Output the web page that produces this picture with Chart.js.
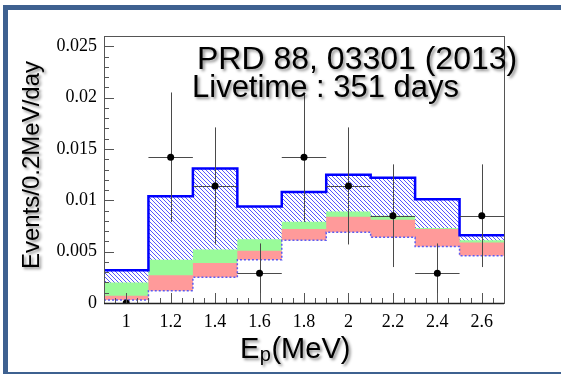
<!DOCTYPE html>
<html>
<head>
<meta charset="utf-8">
<script src="https://cdn.jsdelivr.net/npm/chart.js@4.4.1/dist/chart.umd.min.js"></script>
<style>
    html, body { margin: 0; padding: 0; background: #fff; }
    #wrap { position: relative; width: 561px; height: 374px; overflow: hidden; }
    #frame { position: absolute; left: 3px; top: 5px; right: 0; bottom: 0;
             border-top: 5px solid #3e6190; border-left: 5px solid #3e6190; border-bottom: 2px solid #3e6190; }
    #chart { position: absolute; left: 0; top: 0; }
</style>
</head>
<body>
<div id="wrap">
    <div id="frame"></div>
    <canvas id="chart" width="561" height="374"></canvas>
</div>
<script>
// bin edges (MeV) and bin centres of the histograms
const binEdges = [0.9, 1.1, 1.3, 1.5, 1.7, 1.9, 2.1, 2.3, 2.5, 2.7];
const binCenters = [1.0, 1.2, 1.4, 1.6, 1.8, 2.0, 2.2, 2.4, 2.6];

// stacked predictions, Events/0.2MeV/day (top of each coloured band)
const predTotal = [0.0032, 0.0104, 0.0131, 0.0094, 0.0108, 0.0125, 0.0122, 0.0101, 0.0066];
const predGreen = [0.0020, 0.0042, 0.0052, 0.0062, 0.0079, 0.0089, 0.0085, 0.0073, 0.0061];
const predRed   = [0.0007, 0.0027, 0.0039, 0.0051, 0.0072, 0.0084, 0.0081, 0.0072, 0.0059];
const predBase  = [0.0003, 0.0012, 0.0025, 0.0042, 0.0061, 0.0069, 0.0064, 0.0055, 0.0046];

// measured points with errors
const dataRate = [0.0, 0.0142, 0.0114, 0.0029, 0.0142, 0.0114, 0.0085, 0.0029, 0.0085];
const dataErr  = [0.0009, 0.0063, 0.0057, 0.0029, 0.0063, 0.0057, 0.0050, 0.0029, 0.0050];
const binHalfWidth = 0.1;

// tick labels
const xTickLabels = ['1', '1.2', '1.4', '1.6', '1.8', '2', '2.2', '2.4', '2.6'];
const yTickLabels = ['0', '0.005', '0.01', '0.015', '0.02', '0.025'];

const refText = 'PRD 88, 03301 (2013)';
const liveText = 'Livetime : 351 days';
const yTitle = 'Events/0.2MeV/day';

const sans = '"Liberation Sans", Arial, sans-serif';
const serif = '"Liberation Serif", "Times New Roman", serif';

// step histogram points: one per left edge plus the last right edge
const stepPoints = vals => binEdges.map((x, i) => ({ x: x, y: vals[Math.min(i, vals.length - 1)] }));

const pickLabel = (labels, value) => {
    const l = labels.find(s => Math.abs(parseFloat(s) - value) < 1e-6);
    return l === undefined ? '' : l;
};

// diagonal hatch like ROOT fill style 3004
function makeHatch() {
    const c = document.createElement('canvas');
    c.width = 4; c.height = 4;
    const g = c.getContext('2d');
    g.fillStyle = '#fff';
    g.fillRect(0, 0, 4, 4);
    g.strokeStyle = '#4444ff';
    g.lineWidth = 0.9;
    g.beginPath();
    g.moveTo(-1, -1); g.lineTo(5, 5);
    g.moveTo(-1, 3); g.lineTo(1, 5);
    g.moveTo(3, -1); g.lineTo(5, 1);
    g.stroke();
    return g.createPattern(c, 'repeat');
}

// error bars under the data dots
const errorBars = {
    id: 'errorBars',
    beforeDatasetDraw(chart, args) {
        if (args.index !== 4) return;
        const { ctx, chartArea: a, scales: { x, y } } = chart;
        ctx.save();
        ctx.beginPath();
        ctx.rect(a.left, a.top, a.width, a.height);
        ctx.clip();
        ctx.strokeStyle = '#4a4a4a';
        ctx.lineWidth = 1;
        ctx.beginPath();
        binCenters.forEach((c, i) => {
            const px = Math.round(x.getPixelForValue(c)) + 0.5;
            const py = Math.round(y.getPixelForValue(dataRate[i])) + 0.5;
            ctx.moveTo(x.getPixelForValue(c - binHalfWidth), py);
            ctx.lineTo(x.getPixelForValue(c + binHalfWidth), py);
            ctx.moveTo(px, y.getPixelForValue(dataRate[i] + dataErr[i]));
            ctx.lineTo(px, y.getPixelForValue(dataRate[i] - dataErr[i]));
        });
        ctx.stroke();
        ctx.restore();
    }
};

// ROOT style frame with inward ticks
const rootAxes = {
    id: 'rootAxes',
    afterDatasetsDraw(chart) {
        const { ctx, chartArea: a, scales: { x, y } } = chart;
        ctx.save();
        ctx.strokeStyle = '#555';
        ctx.lineWidth = 1;
        ctx.strokeRect(a.left + 0.5, a.top + 0.5, a.width, a.height);
        ctx.beginPath();
        y.ticks.forEach((t, i) => {
            const py = Math.round(y.getPixelForTick(i)) + 0.5;
            const len = t.label ? 10 : 5;
            ctx.moveTo(a.left, py);
            ctx.lineTo(a.left + len, py);
        });
        x.ticks.forEach((t, i) => {
            const px = Math.round(x.getPixelForTick(i)) + 0.5;
            const len = t.label ? 10 : 5;
            ctx.moveTo(px, a.bottom);
            ctx.lineTo(px, a.bottom - len);
        });
        ctx.stroke();
        ctx.beginPath();
        ctx.strokeStyle = '#222';
        ctx.lineWidth = 1.5;
        ctx.moveTo(a.left, a.bottom + 0.5);
        ctx.lineTo(a.right, a.bottom + 0.5);
        ctx.stroke();
        ctx.restore();
    }
};

// annotation and axis titles with a soft shadow
const shadowText = {
    id: 'shadowText',
    afterDraw(chart) {
        const ctx = chart.ctx;
        ctx.save();
        ctx.shadowColor = 'rgba(0,0,0,0.45)';
        ctx.shadowOffsetX = 2;
        ctx.shadowOffsetY = 2;
        ctx.shadowBlur = 3;
        ctx.fillStyle = '#000';
        ctx.textBaseline = 'alphabetic';

        ctx.font = '32px ' + sans;
        ctx.fillText(refText, 197, 69);
        ctx.font = '31px ' + sans;
        ctx.fillText(liveText, 192, 97);

        // E_p(MeV)
        let xx = 240;
        ctx.font = '29px ' + sans;
        ctx.fillText('E', xx, 358);
        xx += ctx.measureText('E').width + 0.5;
        ctx.font = '20px ' + sans;
        ctx.fillText('p', xx, 361);
        xx += ctx.measureText('p').width + 0.5;
        ctx.font = '29px ' + sans;
        ctx.fillText('(MeV)', xx, 358);

        ctx.translate(38.5, 165);
        ctx.rotate(-Math.PI / 2);
        ctx.textAlign = 'center';
        ctx.font = '24px ' + sans;
        ctx.fillText(yTitle, 0, 0);
        ctx.restore();
    }
};

const chart = new Chart(document.getElementById('chart'), {
    type: 'line',
    data: {
        datasets: [
            {
                label: 'total', data: stepPoints(predTotal), stepped: 'before',
                borderColor: '#0000ff', borderWidth: 2.5, backgroundColor: makeHatch(),
                fill: 'origin', pointRadius: 0, order: 5
            },
            {
                label: 'green', data: stepPoints(predGreen), stepped: 'before',
                borderColor: 'rgba(0,0,0,0)', borderWidth: 0, backgroundColor: '#99fb99',
                fill: 'origin', pointRadius: 0, order: 4
            },
            {
                label: 'red', data: stepPoints(predRed), stepped: 'before',
                borderColor: 'rgba(0,0,0,0)', borderWidth: 0, backgroundColor: '#ff9a9a',
                fill: 'origin', pointRadius: 0, order: 3
            },
            {
                label: 'base', data: stepPoints(predBase), stepped: 'before',
                borderColor: '#5b5bf2', borderWidth: 1.5, borderDash: [2, 2], backgroundColor: '#fff',
                fill: 'origin', pointRadius: 0, order: 2
            },
            {
                label: 'data', data: binCenters.map((c, i) => ({ x: c, y: dataRate[i] })),
                showLine: false, pointRadius: 3.5, pointHoverRadius: 3.5,
                pointBackgroundColor: '#000', pointBorderWidth: 0, order: 1
            }
        ]
    },
    options: {
        responsive: false,
        animation: false,
        events: [],
        layout: { padding: { top: 36, right: 57, left: 0, bottom: 0 } },
        plugins: {
            legend: { display: false },
            tooltip: { enabled: false },
            filler: { drawTime: 'beforeDatasetsDraw' }
        },
        scales: {
            x: {
                type: 'linear', min: 0.9, max: 2.7,
                afterFit: s => { s.height = 71; },
                grid: { display: false, drawTicks: false },
                border: { display: false },
                ticks: {
                    stepSize: 0.05, autoSkip: false, maxRotation: 0, padding: 8, color: '#000',
                    font: { family: serif, size: 18 },
                    callback: v => pickLabel(xTickLabels, v)
                }
            },
            y: {
                min: 0, max: 0.026,
                afterFit: s => { s.width = 104; },
                grid: { display: false, drawTicks: false },
                border: { display: false },
                ticks: {
                    stepSize: 0.001, autoSkip: false, padding: 7, color: '#000',
                    font: { family: serif, size: 18 },
                    callback: v => pickLabel(yTickLabels, v)
                }
            }
        }
    },
    plugins: [errorBars, rootAxes, shadowText]
});
</script>
</body>
</html>
